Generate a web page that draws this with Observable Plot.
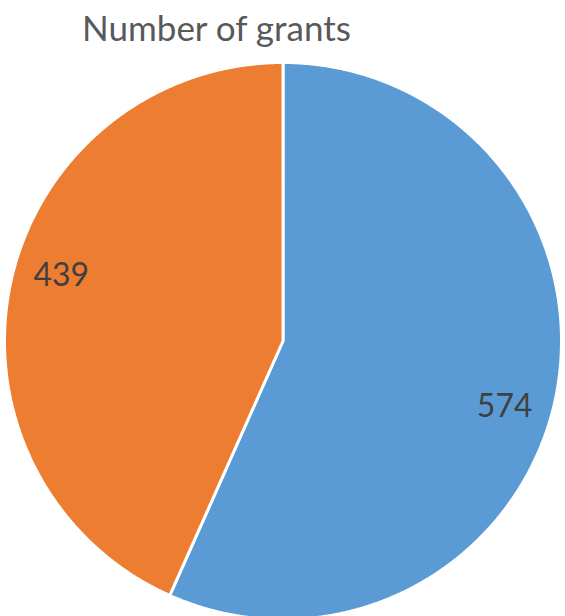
<!DOCTYPE html>
<html>
<head>
<meta charset="utf-8">
<script src="https://cdn.jsdelivr.net/npm/d3@7"></script>
<script src="https://cdn.jsdelivr.net/npm/@observablehq/plot@0.6"></script>
<style>
  html, body { margin: 0; padding: 0; background: #fff; width: 565px; height: 616px; overflow: hidden; }
  #title { position: absolute; left: 0; top: 0; width: 433px; height: 62px; text-align: center;
           font-family: Lato, "Open Sans", sans-serif; font-size: 35px; color: #595959; line-height: 54px; }
  #chart { position: absolute; left: 0; top: 62px; }
</style>
</head>
<body>
<div id="title">Number of grants</div>
<div id="chart"></div>
<script>
const categories = ["A", "B"];
const values = [574, 439];
const colors = ["#5B9BD5", "#ED7D31"];

const pie = d3.pie().sort(null).value(d => d.value)(categories.map((c, i) => ({category: c, value: values[i], color: colors[i]})));

function slicePolygon(a0, a1) {
  const pts = [[0, 0]];
  const n = Math.max(2, Math.ceil((a1 - a0) / 0.005));
  for (let k = 0; k <= n; k++) {
    const a = a0 + (a1 - a0) * k / n;
    pts.push([Math.sin(a), Math.cos(a)]);
  }
  pts.push([0, 0]);
  return pts;
}

const slices = pie.map(p => ({
  type: "Feature",
  properties: {color: p.data.color},
  geometry: {type: "Polygon", coordinates: [slicePolygon(p.startAngle, p.endAngle)]}
}));

const labelR = 0.83;
const labelShift = 4.5 * Math.PI / 180;
const labels = pie.map(p => {
  const m = (p.startAngle + p.endAngle) / 2 + labelShift;
  return {x: labelR * Math.sin(m), y: labelR * Math.cos(m), text: String(p.data.value)};
});

const circle = {type: "Polygon", coordinates: [slicePolygon(0, 2 * Math.PI)]};

const chart = Plot.plot({
  width: 566,
  height: 558,
  margin: 0,
  projection: {type: "reflect-y", domain: circle},
  marks: [
    Plot.geo(slices, {fill: d => d.properties.color, stroke: "white", strokeWidth: 3, strokeLinejoin: "miter"}),
    Plot.text(labels, {x: "x", y: "y", text: "text", fill: "#404040", fontSize: 32, fontFamily: "Lato, 'Open Sans', sans-serif"})
  ]
});
document.getElementById("chart").appendChild(chart);
</script>
</body>
</html>
